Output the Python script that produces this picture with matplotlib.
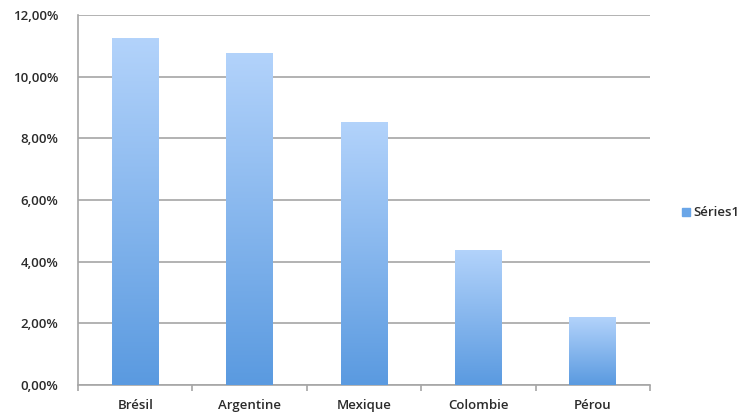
"""Bar chart of share by country with vertical gradient bars."""

import matplotlib

matplotlib.use("Agg")
import matplotlib.pyplot as plt
import numpy as np
from matplotlib.colors import LinearSegmentedColormap
from matplotlib.ticker import FuncFormatter, MultipleLocator

COUNTRIES = ["Brésil", "Argentine", "Mexique", "Colombie", "Pérou"]
SHARES = [11.25, 10.77, 8.53, 4.38, 2.20]
SERIES_NAME = "Séries1"

TOP = "#b3d3fb"
BOTTOM = "#5a9ae0"
GRID = "#a6a6a6"
TEXT = "#2b2b2b"

plt.rcParams["font.family"] = ["Open Sans", "DejaVu Sans"]

fig = plt.figure(figsize=(7.44, 4.16), dpi=100)
ax = fig.add_axes([78 / 744, 1 - 385 / 416, 572 / 744, 370 / 416])

x = np.arange(len(COUNTRIES))
bars = ax.bar(x, SHARES, width=0.41, color=BOTTOM, zorder=2, label=SERIES_NAME)

cmap = LinearSegmentedColormap.from_list("grad", [BOTTOM, TOP])
grad = np.linspace(0, 1, 256).reshape(-1, 1)
for bar in bars:
    x0, w, h = bar.get_x(), bar.get_width(), bar.get_height()
    im = ax.imshow(
        grad,
        cmap=cmap,
        origin="lower",
        extent=[x0, x0 + w, 0, h],
        aspect="auto",
        zorder=3,
    )
    im.set_clip_path(bar)

ax.set_xlim(-0.5, len(COUNTRIES) - 0.5)
ax.set_ylim(0, 12)
ax.yaxis.set_major_locator(MultipleLocator(2))
ax.yaxis.set_major_formatter(FuncFormatter(lambda v, _: f"{v:.2f}%".replace(".", ",")))
ax.grid(axis="y", color=GRID, linewidth=1.2, zorder=0)

ax.set_xticks(x)
ax.set_xticklabels(COUNTRIES)
ax.set_xticks(np.arange(-0.5, len(COUNTRIES)), minor=True)
ax.tick_params(axis="x", which="major", length=0, pad=10)
ax.tick_params(axis="x", which="minor", length=4, color=GRID, width=1.2)
ax.tick_params(axis="y", length=0, pad=14)
for lbl in ax.get_xticklabels() + ax.get_yticklabels():
    lbl.set_fontsize(9.5)
    lbl.set_fontweight("semibold")
    lbl.set_color(TEXT)

for side in ["top", "right"]:
    ax.spines[side].set_visible(False)
for side in ["left", "bottom"]:
    ax.spines[side].set_color(GRID)
    ax.spines[side].set_linewidth(1.2)

ax.legend(
    handles=[plt.Rectangle((0, 0), 1, 1, color="#6aa6e8")],
    labels=[SERIES_NAME],
    loc="center left",
    bbox_to_anchor=(1.035, 0.465),
    frameon=False,
    handlelength=0.6,
    handleheight=0.6,
    handletextpad=0.3,
    prop={"size": 9.5, "weight": "semibold"},
    labelcolor=TEXT,
)

fig.savefig("out.png", dpi=100)
